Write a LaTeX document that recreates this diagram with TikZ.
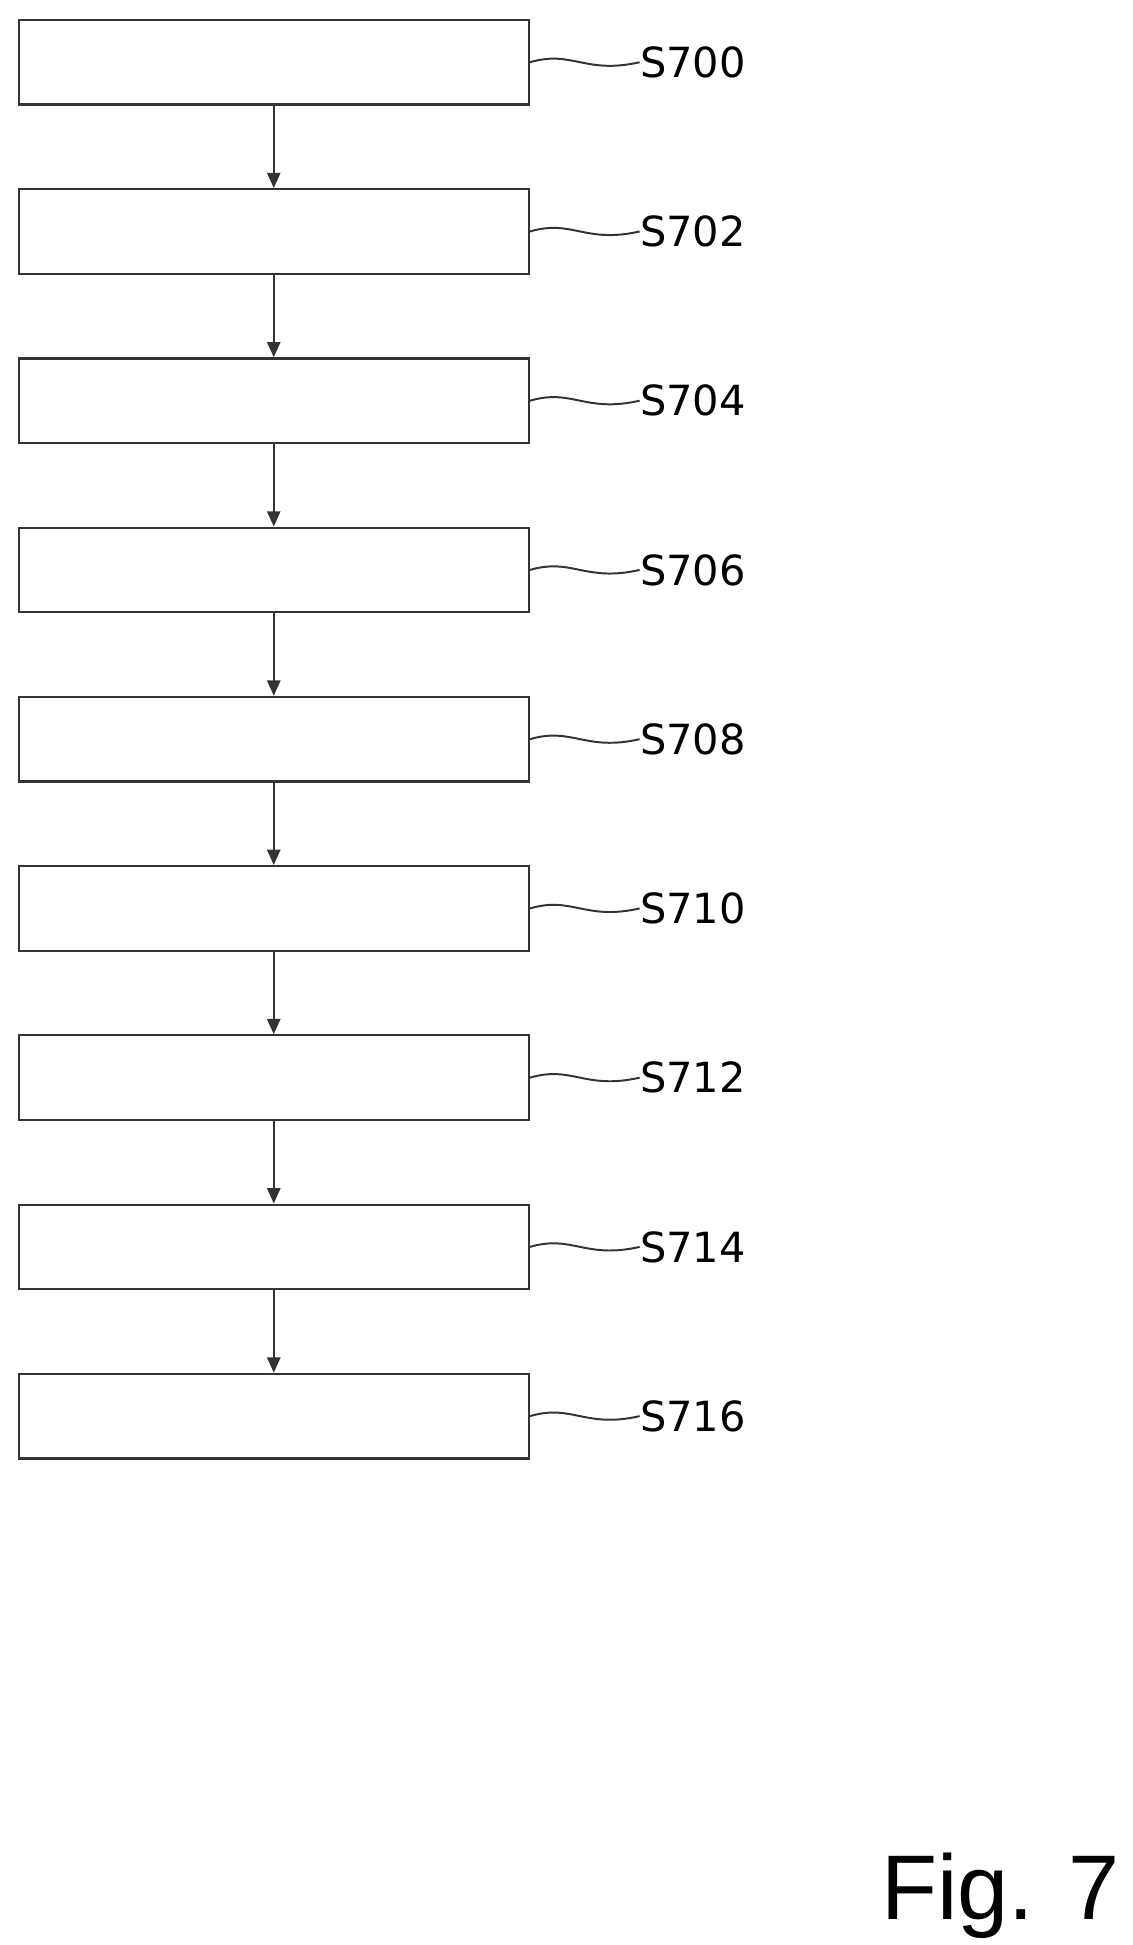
\documentclass[tikz,border=0pt]{standalone}
\usepackage{fontspec}
\setmainfont{DejaVu Sans}
\newfontfamily\figfont{Liberation Sans}
\usetikzlibrary{arrows.meta}
\begin{document}
\begin{tikzpicture}[x=0.02cm,y=-0.02cm,
    stepbox/.style={draw=black!80, line width=1pt, minimum width=8.2cm, minimum height=1.36cm, inner sep=0pt},
    flow/.style={-{Triangle[length=7pt,width=6pt]}, draw=black!80, line width=1pt},
    lead/.style={draw=black!80, line width=0.9pt},
    steplabel/.style={anchor=west, font=\fontsize{19}{23}\selectfont, inner sep=0pt}]
    % Rahmen
    \useasboundingbox (0,0) rectangle (910,1563);

    % Schritte
    \foreach \n [count=\i from 0] in {700,702,704,706,708,710,712,714,716} {
        \node[stepbox] (s\n) at (220,50+136*\i) {};
        \node[steplabel] (l\n) at (514,50+136*\i) {S\n};
        \draw[lead] (s\n.east) .. controls (460,40+136*\i) and (470,60+136*\i) .. (l\n.west);
    }

    % Pfeile
    \foreach \a/\b in {700/702,702/704,704/706,706/708,708/710,710/712,712/714,714/716}
        \draw[flow] (s\a.south) -- (s\b.north);

    % Bezeichnung
    \node[anchor=south east, font=\figfont\fontsize{42}{48}\selectfont, inner sep=0pt] (fig) at (900,1558) {Fig. 7};
\end{tikzpicture}
\end{document}
